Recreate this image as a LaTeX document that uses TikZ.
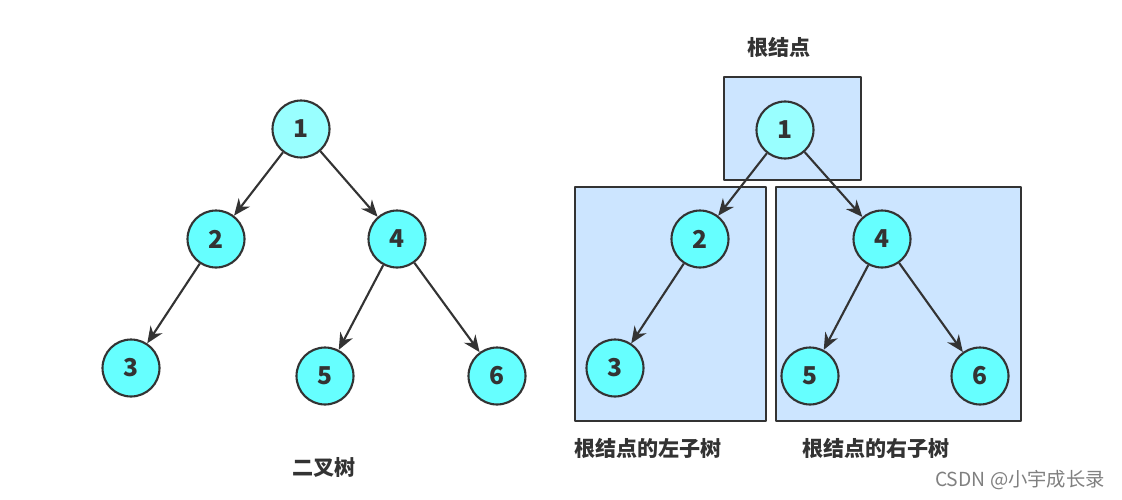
\documentclass[tikz,border=0pt]{standalone}
\usepackage{fontspec}
\setmainfont{Noto Sans CJK SC}
\usetikzlibrary{arrows.meta}
\definecolor{nodecyan}{HTML}{66FFFF}
\definecolor{rootcyan}{HTML}{99FFFF}
\definecolor{boxblue}{HTML}{CCE5FF}
\definecolor{edgegray}{HTML}{333333}
\begin{document}
\begin{tikzpicture}[x=0.02cm, y=-0.02cm, line join=round, >={Stealth[length=9.5pt,width=8pt]},
	tnode/.style={circle, draw=edgegray, line width=1.2pt, fill=nodecyan, minimum size=1.14cm, inner sep=0pt, font=\fontsize{14}{16}\selectfont\bfseries, text=edgegray},
	troot/.style={tnode, fill=rootcyan},
	tedge/.style={->, draw=edgegray, line width=1.2pt},
	subbox/.style={draw=edgegray, line width=1.2pt, fill=boxblue},
	caption/.style={font=\fontsize{12}{14}\selectfont\bfseries, text=edgegray}]
	\useasboundingbox (0,0) rectangle (1122,500);
	% binary tree
	\node[troot] (a1) at (301,129) {1};
	\node[tnode] (a2) at (216,239) {2};
	\node[tnode] (a4) at (397,239) {4};
	\node[tnode] (a3) at (131,368) {3};
	\node[tnode] (a5) at (325,376) {5};
	\node[tnode] (a6) at (497,376) {6};
	\draw[tedge] (a1)--(a2);
	\draw[tedge] (a1)--(a4);
	\draw[tedge] (a2)--(a3);
	\draw[tedge] (a4)--(a5);
	\draw[tedge] (a4)--(a6);
	\node[caption] (cap) at (324,467) {二叉树};
	% root and subtrees
	\draw[subbox] (724,77) rectangle (861,180);
	\draw[subbox] (575,187) rectangle (766,421);
	\draw[subbox] (776,187) rectangle (1021,421);
	\node[troot] (b1) at (785,130) {1};
	\node[tnode] (b2) at (700,239) {2};
	\node[tnode] (b4) at (882,239) {4};
	\node[tnode] (b3) at (615,368) {3};
	\node[tnode] (b5) at (810,376) {5};
	\node[tnode] (b6) at (980,376) {6};
	\draw[tedge] (b1)--(b2);
	\draw[tedge] (b1)--(b4);
	\draw[tedge] (b2)--(b3);
	\draw[tedge] (b4)--(b5);
	\draw[tedge] (b4)--(b6);
	\node[caption] (rootcap) at (779,47) {根结点};
	\node[caption] (leftcap) at (648,448) {根结点的左子树};
	\node[caption] (rightcap) at (876,448) {根结点的右子树};
	\node[font=\fontsize{11}{13}\selectfont, text=gray] (mark) at (1020,480) {CSDN @小宇成长录};
\end{tikzpicture}
\end{document}
